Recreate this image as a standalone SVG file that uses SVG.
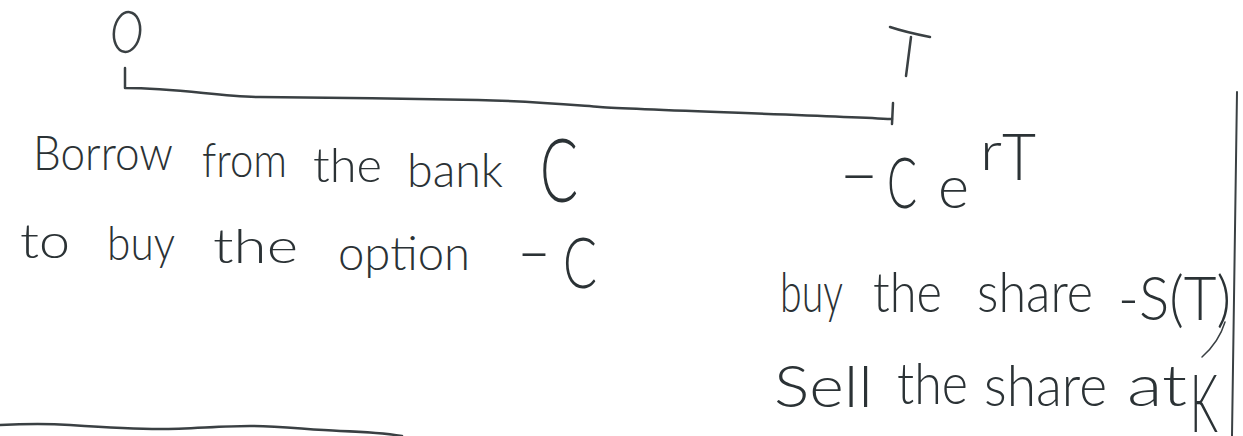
<svg xmlns="http://www.w3.org/2000/svg" width="1243" height="436" viewBox="0 0 1243 436">
  <style>
    .ink { fill: none; stroke: #3a4043; stroke-linecap: round; stroke-linejoin: round; }
    .hw { font-family: Lato, "Open Sans", "Liberation Sans", sans-serif; font-weight: 300; fill: #2b3235; }
  </style>
  <rect x="0" y="0" width="1243" height="436" fill="#ffffff"/>

  <g id="connectors">
    <path class="ink" stroke-width="2.5" d="M125,68 L125,88 C180,88 220,97 260,97 S430,99 478,100 S560,104 600,107 S820,115 892,119"/>
    <path class="ink" stroke-width="2.5" d="M893,103 L892,124"/>
  </g>

  <g id="label-0">
    <ellipse class="ink" stroke-width="2.5" cx="127" cy="32" rx="13" ry="20" transform="rotate(8 127 32)"/>
  </g>

  <g id="label-T">
    <path class="ink" stroke-width="2.5" d="M890,27 Q905,32 930,37 M911,37 L906,76"/>
  </g>

  <g id="left-text" class="hw">
    <text font-size="48"><tspan x="33" y="170" textLength="140" lengthAdjust="spacingAndGlyphs">Borrow</tspan></text>
    <text font-size="48"><tspan x="202" y="177" textLength="85" lengthAdjust="spacingAndGlyphs">from</tspan></text>
    <text font-size="48"><tspan x="313" y="182" textLength="69" lengthAdjust="spacingAndGlyphs">the</tspan></text>
    <text font-size="48"><tspan x="407" y="187" textLength="96" lengthAdjust="spacingAndGlyphs">bank</tspan></text>
    <text font-size="88"><tspan x="540" y="202" textLength="38" lengthAdjust="spacingAndGlyphs">C</tspan></text>

    <text font-size="48"><tspan x="20" y="258" textLength="50" lengthAdjust="spacingAndGlyphs">to</tspan></text>
    <text font-size="48"><tspan x="107" y="260" textLength="68" lengthAdjust="spacingAndGlyphs">buy</tspan></text>
    <text font-size="48"><tspan x="213" y="263" textLength="85" lengthAdjust="spacingAndGlyphs">the</tspan></text>
    <text font-size="48"><tspan x="338" y="270" textLength="132" lengthAdjust="spacingAndGlyphs">option</tspan></text>
    <text font-size="70"><tspan x="518" y="279" textLength="32" lengthAdjust="spacingAndGlyphs">−</tspan></text>
    <text font-size="70"><tspan x="563" y="288" textLength="34" lengthAdjust="spacingAndGlyphs">C</tspan></text>
  </g>

  <g id="right-text" class="hw">
    <text font-size="70"><tspan x="840" y="201" textLength="38" lengthAdjust="spacingAndGlyphs">−</tspan></text>
    <text font-size="70"><tspan x="887" y="208" textLength="30" lengthAdjust="spacingAndGlyphs">C</tspan></text>
    <text font-size="60"><tspan x="938" y="208" textLength="31" lengthAdjust="spacingAndGlyphs">e</tspan></text>
    <text font-size="54"><tspan x="980" y="170" textLength="22" lengthAdjust="spacingAndGlyphs">r</tspan></text>
    <text font-size="65"><tspan x="1002" y="180" textLength="34" lengthAdjust="spacingAndGlyphs">T</tspan></text>

    <text font-size="56"><tspan x="780" y="312" textLength="63" lengthAdjust="spacingAndGlyphs">buy</tspan></text>
    <text font-size="56"><tspan x="873" y="312" textLength="69" lengthAdjust="spacingAndGlyphs">the</tspan></text>
    <text font-size="56"><tspan x="977" y="312" textLength="116" lengthAdjust="spacingAndGlyphs">share</tspan></text>
    <text font-size="62"><tspan x="1118" y="320" textLength="113" lengthAdjust="spacingAndGlyphs">-S(T)</tspan></text>

    <text font-size="58"><tspan x="774" y="407" textLength="99" lengthAdjust="spacingAndGlyphs">Sell</tspan></text>
    <text font-size="58"><tspan x="897" y="404" textLength="71" lengthAdjust="spacingAndGlyphs">the</tspan></text>
    <text font-size="58"><tspan x="984" y="406" textLength="123" lengthAdjust="spacingAndGlyphs">share</tspan></text>
    <text font-size="58"><tspan x="1127" y="406" textLength="60" lengthAdjust="spacingAndGlyphs">at</tspan></text>
    <text font-size="80"><tspan x="1190" y="432" textLength="28" lengthAdjust="spacingAndGlyphs">K</tspan></text>
  </g>

  <g id="page-edges">
    <path class="ink" stroke-width="1.5" d="M1225,322 Q1219,342 1202,357"/>
    <path class="ink" stroke-width="2" d="M1237,92 L1232,436"/>
    <path class="ink" stroke-width="2.5" d="M0,425 C20,424 40,423 70,425 S130,429 160,429 S220,426 250,426 S310,430 340,431 S390,434 402,436"/>
  </g>
</svg>
